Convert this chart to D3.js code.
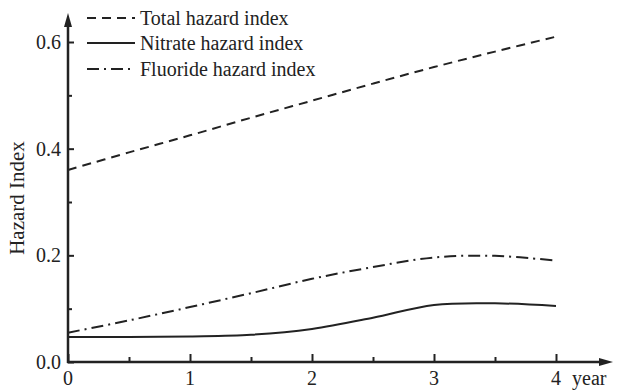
<!DOCTYPE html>
<html lang="en">
  <head>
    <meta charset="utf-8" />
    <title>Hazard Index</title>
    <script src="https://d3js.org/d3.v7.min.js"></script>
    <style>
      body { margin: 0; background: #fff; }
      text { font-family: "Liberation Serif", "DejaVu Serif", serif; fill: #222; }
    </style>
  </head>
  <body>
    <script type="text/javascript">
      // values
      const years = [0, 0.5, 1, 1.5, 2, 2.5, 3, 3.5, 4];
      const total = [0.36, 0.393, 0.425, 0.458, 0.49, 0.522, 0.553, 0.582, 0.61];
      const nitrate = [0.047, 0.047, 0.048, 0.051, 0.062, 0.083, 0.107, 0.11, 0.105];
      const fluoride = [0.055, 0.078, 0.103, 0.129, 0.156, 0.178, 0.196, 0.199, 0.19];
      const seriesNames = ["Total hazard index", "Nitrate hazard index", "Fluoride hazard index"];
      const xTicks = [0, 1, 2, 3, 4];
      const yTicks = [0, 0.2, 0.4, 0.6];

      const w = 618;
      const h = 390;
      const ink = "#222";

      const x = d3.scaleLinear().domain([0, 4]).range([68, 556]);
      const y = d3.scaleLinear().domain([0, 0.6]).range([362, 42]);

      const svg = d3.select("body").append("svg").attr("width", w).attr("height", h);

      const series = [
        { name: seriesNames[0], values: total, dash: "9,6" },
        { name: seriesNames[1], values: nitrate, dash: null },
        { name: seriesNames[2], values: fluoride, dash: "12,5,2,5" },
      ];

      const line = d3
        .line()
        .x((d, i) => x(years[i]))
        .y((d) => y(d))
        .curve(d3.curveCatmullRom.alpha(0.5));

      svg
        .selectAll("path.series")
        .data(series)
        .enter()
        .append("path")
        .attr("class", "series")
        .attr("d", (s) => line(s.values))
        .attr("fill", "none")
        .attr("stroke", ink)
        .attr("stroke-width", 2)
        .attr("stroke-dasharray", (s) => s.dash);

      // y axis, ticks inside
      const yAxis = d3
        .axisRight(y)
        .tickValues(d3.range(0, 0.61, 0.1))
        .tickSize(5)
        .tickFormat("");
      const gy = svg.append("g").attr("transform", "translate(" + x(0) + ",0)").call(yAxis);
      gy.select(".domain").remove();
      gy.selectAll(".tick line")
        .attr("stroke", ink)
        .attr("stroke-width", 2)
        .attr("x2", (d) => (Math.round(d * 10) % 2 === 0 ? 6 : 4));

      svg
        .selectAll("text.ylab")
        .data(yTicks)
        .enter()
        .append("text")
        .attr("class", "ylab")
        .attr("x", x(0) - 7)
        .attr("y", (d) => y(d) + 7)
        .attr("text-anchor", "end")
        .attr("font-size", "20px")
        .text((d) => d.toFixed(1));

      // x axis, ticks inside
      const xAxis = d3
        .axisTop(x)
        .tickValues(d3.range(0, 4.01, 0.5))
        .tickSize(5)
        .tickFormat("");
      const gx = svg.append("g").attr("transform", "translate(0," + y(0) + ")").call(xAxis);
      gx.select(".domain").remove();
      gx.selectAll(".tick line")
        .attr("stroke", ink)
        .attr("stroke-width", 2)
        .attr("y2", (d) => (d % 1 === 0 ? -8 : -5));

      svg
        .selectAll("text.xlab")
        .data(xTicks)
        .enter()
        .append("text")
        .attr("class", "xlab")
        .attr("x", (d) => x(d))
        .attr("y", y(0) + 23)
        .attr("text-anchor", "middle")
        .attr("font-size", "20px")
        .text((d) => d);

      // axis lines with arrows
      svg
        .append("line")
        .attr("x1", x(0)).attr("y1", y(0) + 1)
        .attr("x2", x(0)).attr("y2", 22)
        .attr("stroke", ink).attr("stroke-width", 2.5);
      svg
        .append("path")
        .attr("d", `M${x(0)},13 L${x(0) - 4},27 L${x(0) + 4},27 Z`)
        .attr("fill", ink);
      svg
        .append("line")
        .attr("x1", x(0) - 1).attr("y1", y(0))
        .attr("x2", 604).attr("y2", y(0))
        .attr("stroke", ink).attr("stroke-width", 2.5);
      svg
        .append("path")
        .attr("d", `M613,${y(0)} L599,${y(0) - 4} L599,${y(0) + 4} Z`)
        .attr("fill", ink);

      svg
        .append("text")
        .attr("x", 572)
        .attr("y", y(0) + 23)
        .attr("font-size", "20px")
        .text("year");

      svg
        .append("text")
        .attr("transform", "translate(24,198) rotate(-90)")
        .attr("text-anchor", "middle")
        .attr("font-size", "21px")
        .text("Hazard Index");

      // legend
      const legend = svg
        .selectAll("g.legend")
        .data(series)
        .enter()
        .append("g")
        .attr("class", "legend")
        .attr("transform", (d, i) => "translate(87," + [18, 43, 69][i] + ")");
      legend
        .append("line")
        .attr("x1", 0)
        .attr("x2", 48)
        .attr("stroke", ink)
        .attr("stroke-width", 2)
        .attr("stroke-dasharray", (s) => s.dash);
      legend
        .append("text")
        .attr("x", 53)
        .attr("y", 7)
        .attr("font-size", "20px")
        .text((s) => s.name);
    </script>
  </body>
</html>
